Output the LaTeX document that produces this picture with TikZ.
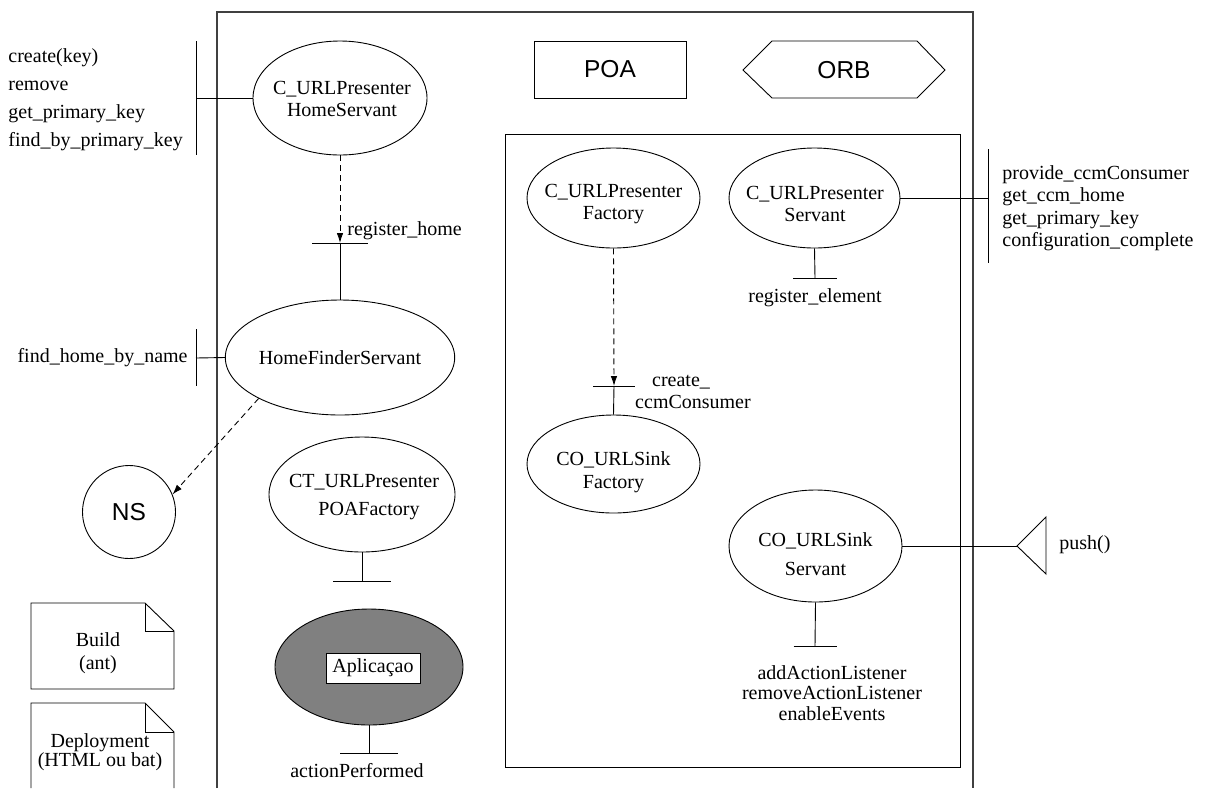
\documentclass[tikz,border=0pt]{standalone}
\usepackage{fontspec}
\setmainfont{Liberation Serif}
\newfontfamily\labelsans{Liberation Sans}
\usetikzlibrary{shapes.geometric,arrows.meta}
\begin{document}
\begin{tikzpicture}[x=1pt,y=-1pt,line width=0.9pt,
  every node/.style={font=\fontsize{20}{22.5}\selectfont,inner sep=0pt},
  comp/.style={draw,ellipse,inner sep=0pt,align=center},
  comptext/.style={align=center},
  sanslabel/.style={font=\labelsans\fontsize{24.5}{28}\selectfont},
  dep/.style={dash pattern=on 6pt off 4pt,-{Latex[length=10pt,width=6.5pt]}},
  frame/.style={draw=black!75,line width=1.1pt}]
\useasboundingbox (0,0) rectangle (1209,788);

% container frames
\draw[frame] (217,788) -- (217,12) -- (973,12) -- (973,788);
\draw (505,134) rectangle (960,767);

% POA and ORB
\node[sanslabel,draw,minimum width=152,minimum height=57] (poa) at (610,69.5) {POA};
\node[sanslabel] (orb) at (844,70) {ORB};
\draw (743,70) -- (772,41) -- (917,41) -- (945,70) -- (917,98) -- (772,98) -- cycle;

% home servant and its interface
\node[comp,minimum width=174,minimum height=114] (hs) at (340,98) {};
\node[comptext] (hstxt) at (342,99) {C\_URLPresenter\\HomeServant};
\coordinate (hsbar) at (196,98);
\draw (196,41) -- (196,155);
\draw (hs.west) -- (hsbar);
\node[anchor=west,align=left,font=\fontsize{20}{28}\selectfont] (hsops) at (8,100)
  {create(key)\\remove\\get\_primary\_key\\find\_by\_primary\_key};

% register_home
\coordinate (rh) at (340,243);
\draw (rh) ++(-28,0) -- ++(56,0);
\node[anchor=west] (rhlbl) at (347,231) {register\_home};

% home finder
\node[comp,minimum width=174,minimum height=115] (hf) at (340,357.5) {HomeFinderServant};
\draw[dep] (hs.south) -- (rh);
\draw (rh) -- (hf.north);
\coordinate (fbar) at (196,358);
\draw (196,329) -- (196,386);
\draw (hf.west) -- (fbar);
\node[anchor=east] (fhlbl) at (188,358) {find\_home\_by\_name};

% naming service
\node[sanslabel,draw,circle,minimum size=93] (ns) at (129,512) {NS};
\draw[dep] (hf.south west) -- (ns.22);

% POA factory
\node[comp,minimum width=186,minimum height=115] (ct) at (362,494.5) {};
\node[comptext] (cttxt) at (364,497) {CT\_URLPresenter\\[5.5pt]\hspace*{10pt}POAFactory};
\coordinate (ctbar) at (362,581);
\draw (ct.south) -- (ctbar);
\draw (ctbar) ++(-29,0) -- ++(58,0);

% application
\node[comp,fill=black!50,minimum width=188,minimum height=116] (app) at (369,667) {};
\node[draw,fill=white,minimum width=94,minimum height=30] (applbl) at (373,668) {Aplica\c{c}ao};
\coordinate (apbar) at (369,753);
\draw (app.south) -- (apbar);
\draw (apbar) ++(-29,0) -- ++(58,0);
\node (aplbl) at (357,771) {actionPerformed};

% documents
\draw (31,603) -- (145,603) -- (174,631) -- (174,689) -- (31,689) -- cycle;
\draw (145,603) -- (145,631) -- (174,631);
\node[align=center] (build) at (98,653) {Build\\(ant)};
\draw (31,788) -- (31,703) -- (145,703) -- (174,732) -- (174,788);
\draw (145,703) -- (145,732) -- (174,732);
\node[align=center,font=\fontsize{20}{18.5}\selectfont] (deploy) at (100,752) {Deployment\\(HTML ou bat)};

% component factory and servant
\node[comp,minimum width=173,minimum height=100] (fac) at (613.5,198) {};
\node[comptext] (factxt) at (613.5,204) {C\_URLPresenter\\Factory};
\node[comp,minimum width=171,minimum height=100] (srv) at (814.5,198) {};
\node[comptext] (srvtxt) at (815,204) {C\_URLPresenter\\Servant};
\coordinate (rebar) at (815,278);
\draw (srv.south) -- (rebar);
\draw (rebar) ++(-22,0) -- ++(44,0);
\node (relbl) at (815,298) {register\_element};
\coordinate (srvbar) at (988,198);
\draw (srv.east) -- (srvbar);
\draw (988,149) -- (988,263);
\node[anchor=west,align=left] (srvops) at (1002,208)
  {provide\_ccmConsumer\\get\_ccm\_home\\get\_primary\_key\\configuration\_complete};

% consumer factory
\node[comp,minimum width=173,minimum height=98] (sf) at (613.5,464) {};
\node[comptext] (sftxt) at (613.5,472) {CO\_URLSink\\Factory};
\coordinate (ccbar) at (614,386);
\draw[dep] (fac.south) -- (ccbar);
\draw (ccbar) -- (sf.north);
\draw (ccbar) ++(-21,0) -- ++(42,0);
\node (cclbla) at (681,382) {create\_};
\node (cclblb) at (693,402) {ccmConsumer};

% consumer servant
\node[comp,minimum width=173,minimum height=112] (ss) at (815.5,546) {};
\node[comptext] (sstxt) at (815.5,554) {CO\_URLSink\\[6.5pt]Servant};
\coordinate (pushtip) at (1017,546);
\draw (ss.east) -- (pushtip);
\draw (pushtip) -- (1046,517) -- (1046,574) -- cycle;
\node[anchor=west] (pushlbl) at (1059,545) {push()};
\coordinate (ssbar) at (815,646);
\draw (ss.south) -- (ssbar);
\draw (ssbar) ++(-21.5,0) -- ++(43,0);
\node[align=center,font=\fontsize{20}{20.5}\selectfont] (ssops) at (832,693)
  {addActionListener\\removeActionListener\\enableEvents};
\end{tikzpicture}
\end{document}
